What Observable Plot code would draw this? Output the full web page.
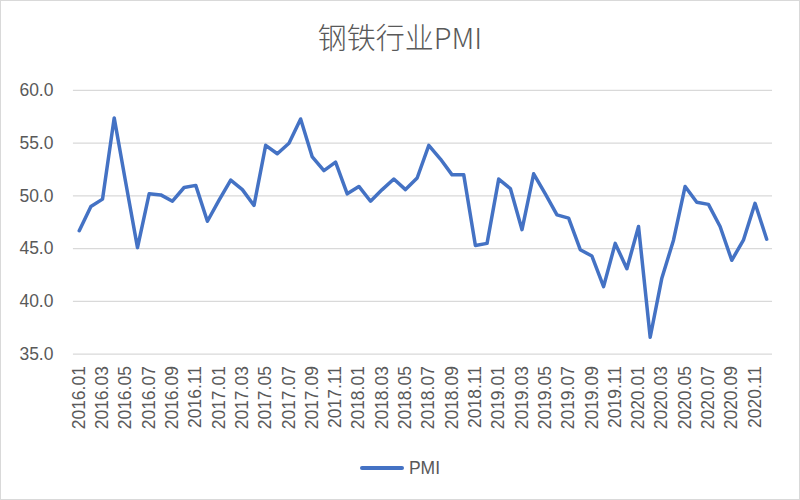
<!DOCTYPE html>
<html><head><meta charset="utf-8">
<script src="https://cdn.jsdelivr.net/npm/d3@7"></script>
<script src="https://cdn.jsdelivr.net/npm/@observablehq/plot@0.6"></script>
<style>
body{margin:0;background:#fff;}
#wrap{position:relative;width:798px;height:498px;border:1px solid #d9d9d9;background:#fff;overflow:hidden;font-family:"Liberation Sans",Arial,sans-serif;}
#title{position:absolute;left:0;top:14px;width:798px;text-align:center;font-family:"Noto Sans CJK SC",sans-serif;font-size:29px;color:#595959;font-weight:300;}
#chart{position:absolute;left:-1px;top:69px;}
#legend{position:absolute;left:0;top:456px;width:798px;text-align:center;font-size:17.5px;color:#595959;}
#legend .sw{display:inline-block;width:44px;height:4px;background:#4472C4;border-radius:2px;vertical-align:middle;margin-right:5px;}
</style></head>
<body>
<div id="wrap">
<div id="title">钢铁行业PMI</div>
<div id="chart"></div>
<div id="legend"><span class="sw"></span><span style="vertical-align:middle">PMI</span></div>
</div>
<script>
const months = [];
for (let y = 2016; y <= 2020; y++) for (let m = 1; m <= 12; m++) months.push(`${y}.${String(m).padStart(2,"0")}`);
const pmi = [
46.7,49.0,49.7,57.4,51.2,45.1,50.2,50.1,49.5,50.8,51.0,47.6,
49.6,51.5,50.6,49.1,54.8,54.0,55.0,57.3,53.7,52.4,53.2,50.2,
50.9,49.5,50.6,51.6,50.6,51.7,54.8,53.5,52.0,52.0,45.3,45.5,
51.6,50.7,46.8,52.1,50.2,48.2,47.9,44.9,44.3,41.4,45.5,43.1,
47.1,36.6,42.2,45.8,50.9,49.4,49.2,47.1,43.9,45.8,49.3,45.9
];
const yTicks = [35,40,45,50,55,60];
const xTicks = months.filter((d,i) => i % 2 === 0);
const data = months.map((m,i) => ({month: m, value: pmi[i]}));

const chart = Plot.plot({
  width: 800, height: 370,
  marginLeft: 73, marginRight: 27, marginTop: 20, marginBottom: 86,
  style: {fontFamily: "Liberation Sans, Arial, sans-serif", fontSize: "17.5px", color: "#595959", background: "transparent"},
  x: {type: "point", domain: months, padding: 0.5},
  y: {domain: [35, 60]},
  marks: [
    Plot.ruleY(yTicks, {stroke: "#d9d9d9", strokeWidth: 1.3}),
    Plot.axisY({ticks: yTicks, tickFormat: d3.format(".1f"), tickSize: 0, tickPadding: 20, label: null, fill: "#595959"}),
    Plot.axisX({ticks: xTicks, tickRotate: -90, tickSize: 0, tickPadding: 12, label: null, fill: "#595959"}),
    Plot.line(data, {x: "month", y: "value", stroke: "#4472C4", strokeWidth: 3.5, strokeLinejoin: "round", strokeLinecap: "round"})
  ]
});
document.getElementById("chart").appendChild(chart);
</script>
</body></html>
